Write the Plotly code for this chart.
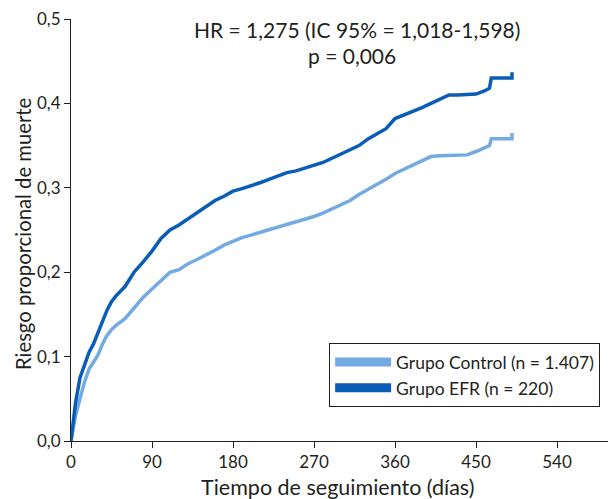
import plotly.graph_objects as go

days = [0, 5, 10, 15, 20, 25, 30, 35, 40, 45, 50, 60, 70, 80, 90, 100, 110, 120, 130, 140,
        150, 160, 170, 180, 190, 200, 210, 220, 230, 240, 250, 260, 270, 280, 290, 300,
        310, 320, 330, 340, 350, 360, 370, 380, 390, 400, 410, 420, 430, 440, 450, 460,
        465, 467, 480, 490, 490]

efr = [0, 0.045, 0.075, 0.09, 0.105, 0.115, 0.128, 0.14, 0.155, 0.165, 0.172, 0.183, 0.2,
       0.212, 0.225, 0.24, 0.25, 0.256, 0.263, 0.27, 0.277, 0.285, 0.29, 0.296, 0.299, 0.302,
       0.306, 0.31, 0.314, 0.318, 0.32, 0.323, 0.327, 0.33, 0.335, 0.34, 0.345, 0.35, 0.358,
       0.364, 0.37, 0.382, 0.386, 0.39, 0.395, 0.4, 0.405, 0.41, 0.41, 0.41, 0.411, 0.415,
       0.418, 0.43, 0.43, 0.43, 0.437]

control = [0, 0.03, 0.05, 0.07, 0.085, 0.093, 0.102, 0.115, 0.125, 0.132, 0.137, 0.145,
           0.158, 0.17, 0.18, 0.19, 0.2, 0.203, 0.21, 0.215, 0.22, 0.226, 0.232, 0.237, 0.241,
           0.244, 0.247, 0.25, 0.253, 0.257, 0.26, 0.263, 0.266, 0.27, 0.275, 0.28, 0.285,
           0.292, 0.298, 0.303, 0.31, 0.317, 0.322, 0.328, 0.333, 0.337, 0.338, 0.338, 0.339,
           0.339, 0.343, 0.348, 0.35, 0.358, 0.358, 0.358, 0.365]

series_names = ["Grupo Control (n = 1.407)", "Grupo EFR (n = 220)"]
x_ticks = [0, 90, 180, 270, 360, 450, 540]
y_ticks = [0, 0.1, 0.2, 0.3, 0.4, 0.5]

c_light = "#74aae2"
c_dark = "#0a5db6"
font = "Lato"
ink = "#231f20"

# the page body has an 8px default margin; size the figure so it fills the window
OFF = 8
W, H = 616 - OFF, 499 - OFF
ML, MR, MT, MB = 71 - OFF, 5, 19 - OFF, 58

fig = go.Figure()
fig.add_trace(go.Scatter(x=days, y=control, mode="lines", line=dict(color=c_light, width=3.5),
                         showlegend=False, hoverinfo="skip"))
fig.add_trace(go.Scatter(x=days, y=efr, mode="lines", line=dict(color=c_dark, width=3.5),
                         showlegend=False, hoverinfo="skip"))
fig.add_trace(go.Scatter(x=[None], y=[None], mode="lines", line=dict(color=c_light, width=9),
                         name=series_names[0]))
fig.add_trace(go.Scatter(x=[None], y=[None], mode="lines", line=dict(color=c_dark, width=9),
                         name=series_names[1]))

fig.update_layout(
    width=W, height=H,
    margin=dict(l=ML, r=MR, t=MT, b=MB, autoexpand=False),
    paper_bgcolor="white", plot_bgcolor="white",
    separators=", ",
    font=dict(family=font, size=17, color=ink),
    showlegend=True,
    legend=dict(x=0.478, y=0.232, xanchor="left", yanchor="top",
                bordercolor=ink, borderwidth=1, bgcolor="white",
                font=dict(size=17.5), itemwidth=56, tracegroupgap=0),
    xaxis=dict(range=[0, 600], tickvals=x_ticks, ticks="outside", ticklen=6,
               tickcolor=ink, showline=True, linecolor=ink, linewidth=1,
               showgrid=False, zeroline=False, automargin=False,
               ticklabeloverflow="allow", tickfont=dict(size=17)),
    yaxis=dict(range=[0, 0.5], tickvals=y_ticks, tickformat=".1f", ticks="outside",
               ticklen=6, tickcolor=ink, showline=True, linecolor=ink,
               linewidth=1, showgrid=False, zeroline=False, automargin=False,
               ticklabeloverflow="allow", tickfont=dict(size=17)),
    annotations=[
        dict(text="HR = 1,275 (IC 95% = 1,018-1,598)", x=357, y=30, xref="paper",
             yref="paper", showarrow=False, font=dict(size=21)),
        dict(text="p = 0,006", x=352, y=56, xref="paper", yref="paper",
             showarrow=False, font=dict(size=21)),
        dict(text="Tiempo de seguimiento (días)", x=337, y=487, xref="paper", yref="paper",
             showarrow=False, font=dict(size=21.5)),
        dict(text="Riesgo proporcional de muerte", x=23, y=234, xref="paper", yref="paper",
             showarrow=False, textangle=-90, font=dict(size=20.3)),
    ],
)

# convert page-pixel positions of annotations to paper coordinates
pw, ph = W - ML - MR, H - MT - MB
for a in fig.layout.annotations:
    px, py = a.x - OFF, a.y - OFF
    a.x = (px - ML) / pw
    a.y = (H - MB - py) / ph
    a.xanchor = "center"
    a.yanchor = "middle"

fig.write_html("out.html")
